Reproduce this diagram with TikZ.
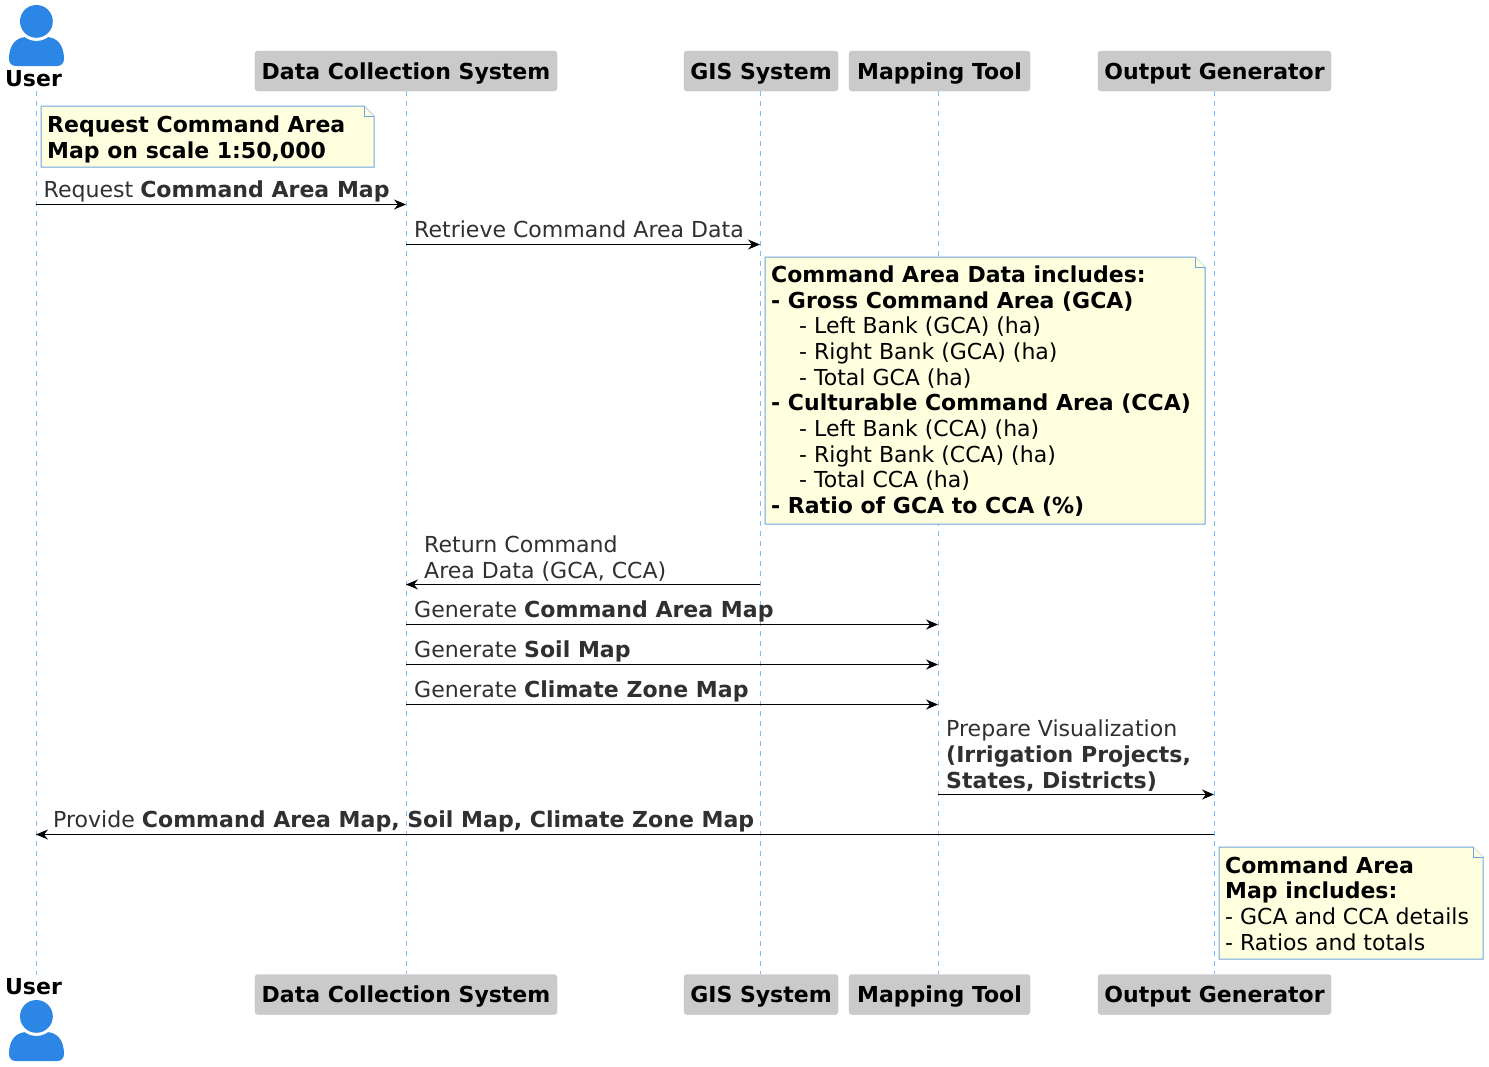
\documentclass[tikz,border=0pt]{standalone}
\usepackage{fontspec}
\setmainfont{DejaVu Sans}
\usetikzlibrary{arrows.meta}

\definecolor{iconblue}{HTML}{2B86E6}
\definecolor{lineblue}{HTML}{7FBDF7}
\definecolor{noteline}{HTML}{6FA5DE}
\definecolor{notefill}{HTML}{FEFFDF}
\definecolor{partfill}{HTML}{CACACA}
\definecolor{partline}{HTML}{C0C0C0}
\definecolor{msgtext}{HTML}{303030}

\tikzset{
	every node/.style={font=\fontsize{22}{25.65}\selectfont, inner sep=0pt},
	part/.style={fill=partfill, draw=partline, rounded corners=3pt, minimum height=40pt,
		text height=16pt, text depth=0pt, font=\fontsize{22}{25.65}\selectfont\bfseries},
	actor/.style={anchor=base, font=\fontsize{22}{25.65}\selectfont\bfseries},
	lifeline/.style={draw=lineblue, line width=1pt, dash pattern=on 5pt off 5pt},
	msg/.style={draw=black, line width=1pt, -{Stealth[length=12pt, width=10pt, inset=4pt]}},
	msgtext/.style={anchor=base west, align=left, text=msgtext, font=\fontsize{22.05}{25.65}\selectfont},
	notetext/.style={anchor=base west, align=left, text=black},
	notebox/.style={draw=noteline, fill=notefill, line width=1pt},
	pics/usericon/.style={code={
		\fill[iconblue] (9,59) .. controls (9,45) and (16,37) .. (27,37)
			-- (46,37) .. controls (57,37) and (64,45) .. (64,59)
			.. controls (64,63.5) and (61,66) .. (57,66) -- (16,66)
			.. controls (12,66) and (9,63.5) .. (9,59) -- cycle;
		\fill[white] (36.4,21.4) circle [radius=19.5];
		\fill[iconblue] (36.4,21.4) circle [radius=16.4];
	}},
}

% note with a folded corner
\newcommand{\notefold}[4]{
	\draw[notebox] (#1,#2) -- (#3-10,#2) -- (#3,#2+10) -- (#3,#4) -- (#1,#4) -- cycle;
	\draw[notebox] (#3-10,#2) -- (#3-10,#2+10) -- (#3,#2+10);
}

\begin{document}
\begin{tikzpicture}[x=1pt, y=-1pt]
	\useasboundingbox (0,0) rectangle (1489,1066);

	\coordinate (userT) at (36,91);
	\coordinate (userB) at (36,975);

	\node[part, minimum width=302pt] (dcsT) at (406,71) {Data Collection System};
	\node[part, minimum width=154pt] (gisT) at (761,71) {GIS System};
	\node[part, minimum width=181pt] (mapT) at (939.5,71) {Mapping Tool};
	\node[part, minimum width=233pt] (outT) at (1214.5,71) {Output Generator};
	\node[part, minimum width=302pt] (dcsB) at (406,994.5) {Data Collection System};
	\node[part, minimum width=154pt] (gisB) at (761,994.5) {GIS System};
	\node[part, minimum width=181pt] (mapB) at (939.5,994.5) {Mapping Tool};
	\node[part, minimum width=233pt] (outB) at (1214.5,994.5) {Output Generator};

	\draw[lifeline] (userT) -- (userB);
	\draw[lifeline] (dcsT.south) -- (dcsB.north);
	\draw[lifeline] (gisT.south -| 760,0) -- (gisB.north -| 760,0);
	\draw[lifeline] (mapT.south -| 938,0) -- (mapB.north -| 938,0);
	\draw[lifeline] (outT.south) -- (outB.north);

	\pic at (0,0) {usericon};
	\pic at (0,995) {usericon};
	\node[actor] (userA) at (33.5,86) {User};
	\node[actor] (userC) at (33.5,994) {User};

	% message ends on the lifelines
	\foreach \pn/\xx in {user/36,dcs/406,gis/760,map/938,out/1214}{
		\foreach \mm/\yy in {a/204.5,b/244.5,c/584.5,d/624.5,e/664.5,f/704.5,g/794.5,h/834.5}{
			\coordinate (\pn-\mm) at (\xx,\yy);
		}
	}

	\notefold{41}{106}{374}{167}
	\node[notetext, font=\fontsize{22}{25.65}\selectfont\bfseries] (noteA) at (47,158)
		{Request Command Area\\Map on scale 1:50,000};

	\draw[msg] (user-a) -- (dcs-a);
	\node[msgtext] (msgA) at (43.5,197) {Request \textbf{Command Area Map}};

	\draw[msg] (dcs-b) -- (gis-b);
	\node[msgtext] (msgB) at (414,237) {Retrieve Command Area Data};

	\notefold{765}{257}{1205}{524}
	\node[notetext] (noteB) at (771,513.3) {\textbf{Command Area Data includes:}\\
		\textbf{- Gross Command Area (GCA)}\\
		\hspace*{28pt}- Left Bank (GCA) (ha)\\
		\hspace*{28pt}- Right Bank (GCA) (ha)\\
		\hspace*{28pt}- Total GCA (ha)\\
		\textbf{- Culturable Command Area (CCA)}\\
		\hspace*{28pt}- Left Bank (CCA) (ha)\\
		\hspace*{28pt}- Right Bank (CCA) (ha)\\
		\hspace*{28pt}- Total CCA (ha)\\
		\textbf{- Ratio of GCA to CCA (\%)}};

	\draw[msg] (gis-c) -- (dcs-c);
	\node[msgtext] (msgC) at (424,578.5) {Return Command\\Area Data (GCA, CCA)};

	\draw[msg] (dcs-d) -- (map-d);
	\node[msgtext] (msgD) at (414,617.6) {Generate \textbf{Command Area Map}};
	\draw[msg] (dcs-e) -- (map-e);
	\node[msgtext] (msgE) at (414,657.4) {Generate \textbf{Soil Map}};
	\draw[msg] (dcs-f) -- (map-f);
	\node[msgtext] (msgF) at (414,697.4) {Generate \textbf{Climate Zone Map}};

	\draw[msg] (map-g) -- (out-g);
	\node[msgtext] (msgG) at (946,788) {Prepare Visualization\\
		\textbf{(Irrigation Projects,}\\\textbf{States, Districts)}};

	\draw[msg] (out-h) -- (user-h);
	\node[msgtext] (msgH) at (53,827) {Provide \textbf{Command Area Map, Soil Map, Climate Zone Map}};

	\notefold{1219}{847}{1483}{959}
	\node[notetext] (noteC) at (1225,950) {\textbf{Command Area}\\\textbf{Map includes:}\\
		- GCA and CCA details\\- Ratios and totals};
\end{tikzpicture}
\end{document}
